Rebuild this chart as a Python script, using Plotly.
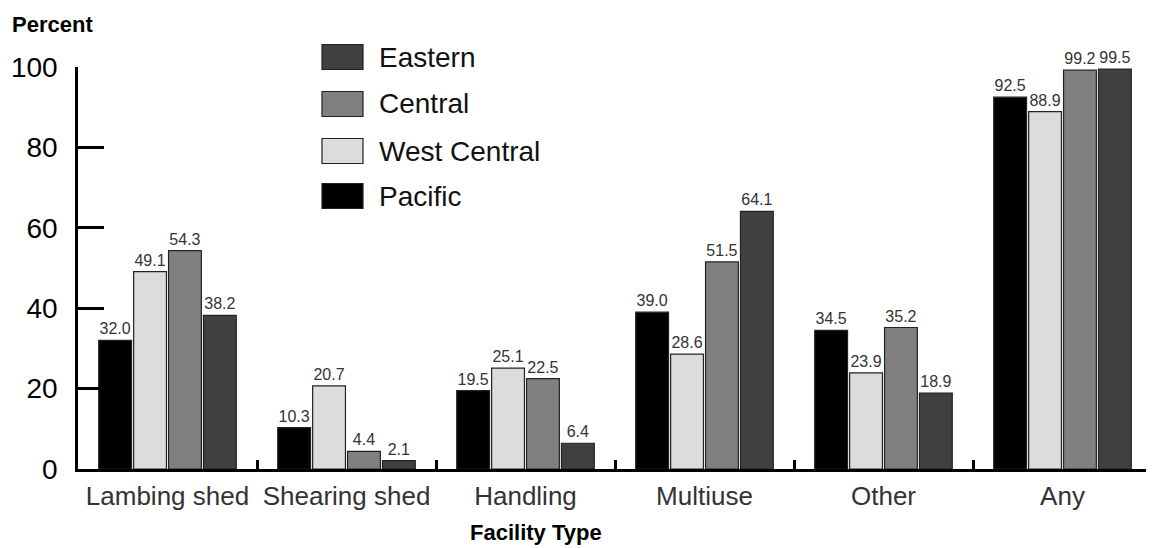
import plotly.graph_objects as go

# facility types and percent of operations, by region
facility_types = ['Lambing shed', 'Shearing shed', 'Handling', 'Multiuse', 'Other', 'Any']
regions = ['Pacific', 'West Central', 'Central', 'Eastern']
pacific = [32.0, 10.3, 19.5, 39.0, 34.5, 92.5]
west_central = [49.1, 20.7, 25.1, 28.6, 23.9, 88.9]
central = [54.3, 4.4, 22.5, 51.5, 35.2, 99.2]
eastern = [38.2, 2.1, 6.4, 64.1, 18.9, 99.5]

values = [pacific, west_central, central, eastern]
colors = ['#000000', '#dcdcdc', '#808080', '#404040']
font_family = 'Liberation Sans, Arial, sans-serif'

fig = go.Figure()
for name, vals, col in zip(regions, values, colors):
    fig.add_trace(go.Bar(
        x=facility_types,
        y=vals,
        name=name,
        marker=dict(color=col, line=dict(color='#222222', width=1.2)),
        texttemplate='%{y:.1f}',
        textposition='outside',
        textfont=dict(size=16, color='#333333', family=font_family),
        cliponaxis=False,
        showlegend=False,
    ))

# hand drawn legend, bigger swatches like the original
# (plot area is 1074 x 402 px, starting at x=78, bottom at y=469 on the page)
legend_rows = [('Eastern', '#404040', 57), ('Central', '#808080', 104),
               ('West Central', '#dcdcdc', 151), ('Pacific', '#000000', 196)]
shapes = []
annotations = []
for label, col, yc in legend_rows:
    shapes.append(dict(type='rect', xref='paper', yref='paper',
                       x0=(322 - 78) / 1074, x1=(363 - 78) / 1074,
                       y0=(469 - yc - 12.5) / 402, y1=(469 - yc + 12.5) / 402,
                       fillcolor=col, line=dict(color='#222222', width=1.2)))
    annotations.append(dict(text=label, xref='paper', yref='paper',
                            x=(377 - 78) / 1074, y=(469 - yc) / 402,
                            xanchor='left', yanchor='middle', showarrow=False,
                            font=dict(size=28, color='#111111', family=font_family)))

annotations.append(dict(text='<b>Percent</b>', xref='paper', yref='paper',
                        x=-68 / 1074, y=(469 - 25) / 402, xanchor='left', yanchor='middle',
                        showarrow=False, font=dict(size=22, color='#000000', family=font_family)))
annotations.append(dict(text='<b>Facility Type</b>', xref='paper', yref='paper',
                        x=(536 - 78) / 1074, y=(469 - 532) / 402, xanchor='center', yanchor='middle',
                        showarrow=False, font=dict(size=22, color='#000000', family=font_family)))

# page body has an 8px margin, so the figure is 8px smaller than the window
fig.update_layout(
    width=1146, height=540,
    margin=dict(l=70, r=2, t=59, b=79),
    plot_bgcolor='white', paper_bgcolor='white',
    barmode='group', bargap=0.22, bargroupgap=0.06,
    font=dict(family=font_family),
    shapes=shapes,
    annotations=annotations,
    xaxis=dict(
        type='category', showline=True, linecolor='#000000', linewidth=2.5,
        ticks='inside', tickson='boundaries', ticklen=9, tickwidth=2.5, tickcolor='#000000',
        tickfont=dict(size=26, color='#333333'), ticklabelstandoff=2,
        showgrid=False, zeroline=False,
    ),
    yaxis=dict(
        range=[0, 100], tickvals=[0, 20, 40, 60, 80, 100],
        showline=True, linecolor='#000000', linewidth=2.5,
        ticks='inside', ticklen=26, tickwidth=2.5, tickcolor='#000000',
        tickfont=dict(size=28, color='#000000'), ticklabelstandoff=12,
        showgrid=False, zeroline=False,
    ),
)

fig.write_html('out.html')
